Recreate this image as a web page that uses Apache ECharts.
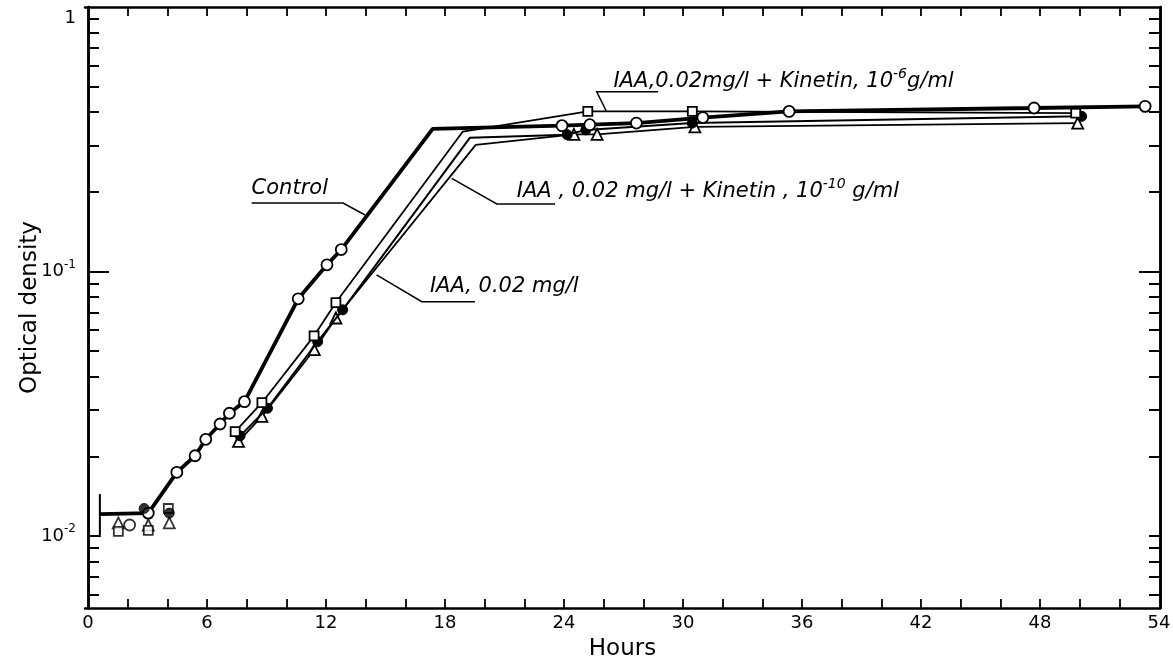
<!DOCTYPE html>
<html>
<head>
<meta charset="utf-8">
<script src="https://cdn.jsdelivr.net/npm/echarts@6/dist/echarts.min.js"></script>
<style>
html, body { margin: 0; padding: 0; background: #fff; }
#chart { width: 1173px; height: 670px; }
</style>
</head>
<body>
<div id="chart"></div>
<script>
// growth curves, hours vs optical density
var ctrlHours = [0.6, 3.04, 4.48, 5.4, 5.94, 6.66, 7.13, 7.89, 10.6, 12.05, 12.77, 17.38, 23.9, 25.3, 27.65, 31.0, 35.35, 47.7, 53.3];
var ctrlOD    = [0.0121, 0.0122, 0.0174, 0.0201, 0.0232, 0.0265, 0.0291, 0.0322, 0.0788, 0.106, 0.121, 0.346, 0.356, 0.359, 0.364, 0.382, 0.403, 0.415, 0.421];
var ctrlBends = [0.6, 17.38];           // line vertices only, no measured point
var ctrlEarlyHours = [2.1];
var ctrlEarlyOD    = [0.0110];
var ctrlBarHours = [0.6, 0.6];
var ctrlBarOD    = [0.0099, 0.0144];

// IAA 0.02 mg/l + kinetin 1e-6 g/ml (squares)
var sqHours = [7.42, 8.77, 11.4, 12.5, 18.9, 25.2, 30.47, 49.8];
var sqOD    = [0.0248, 0.0319, 0.0571, 0.0763, 0.338, 0.403, 0.403, 0.397];
var sqBends = [18.9];
var sqEarlyHours = [1.53, 3.04, 4.05];
var sqEarlyOD    = [0.0104, 0.0105, 0.0127];

// IAA 0.02 mg/l + kinetin 1e-10 g/ml (filled circles)
var fcHours = [7.67, 9.05, 11.58, 12.84, 19.25, 24.16, 25.1, 30.47, 50.1];
var fcOD    = [0.0239, 0.0304, 0.0543, 0.0716, 0.32, 0.329, 0.343, 0.364, 0.386];
var fcBends = [19.25];
var fcEarlyHours = [2.83, 4.1];
var fcEarlyOD    = [0.0127, 0.0122];

// IAA 0.02 mg/l (triangles)
var trHours = [7.59, 8.77, 11.41, 12.5, 19.55, 24.5, 25.67, 30.6, 49.9];
var trOD    = [0.0228, 0.0283, 0.0506, 0.0667, 0.301, 0.33, 0.33, 0.352, 0.364];
var trBends = [19.55];
var trEarlyHours = [1.53, 3.04, 4.1];
var trEarlyOD    = [0.0112, 0.0110, 0.0112];

// axes
var xTickHours  = [2, 4, 6, 8, 10, 12, 14, 16, 18, 20, 22, 24, 26, 28, 30, 32, 34, 36, 38, 40, 42, 44, 46, 48, 50, 52];
var xLabelHours = [0, 6, 12, 18, 24, 30, 36, 42, 48, 54];
var yMinorTicks = [0.006, 0.007, 0.008, 0.009, 0.01, 0.02, 0.03, 0.04, 0.05, 0.06, 0.07, 0.08, 0.09,
                   0.2, 0.3, 0.4, 0.5, 0.6, 0.7, 0.8, 0.9];
var yMajorTicks = [0.1];
var yLabelValues = [0.01, 0.1, 1];
var yMin = 0.00534, yMax = 1;

function lg(v) { return Math.log10(v); }
function pts(h, v) { return h.map(function (x, i) { return [x, lg(v[i])]; }); }

var font = '"DejaVu Sans", sans-serif';
var openStyle = { color: '#fff', borderColor: '#000', borderWidth: 1.8 };
var fillStyle = { color: '#000', borderColor: '#000', borderWidth: 1 };

function curve(name, h, v, bends, sym, size, style, width, z) {
    return {
        name: name,
        type: 'line',
        data: pts(h, v),
        symbol: function (val) { return bends.indexOf(val[0]) >= 0 ? 'none' : sym; },
        symbolSize: size,
        itemStyle: style,
        lineStyle: { color: '#000', width: width },
        z: z,
        silent: true
    };
}
function dots(name, h, v, sym, size, style, z) {
    return {
        name: name,
        type: 'scatter',
        data: pts(h, v),
        symbol: sym,
        symbolSize: size,
        itemStyle: style,
        z: z,
        silent: true
    };
}

function yAxisDef(pos, ticks, len, withLabels) {
    return {
        type: 'value',
        position: pos,
        min: lg(yMin),
        max: lg(yMax),
        splitLine: { show: false },
        axisLine: { show: true, lineStyle: { color: '#000', width: 2.5 } },
        axisTick: {
            show: true, inside: true, length: len,
            customValues: ticks.map(lg),
            lineStyle: { color: '#000', width: 2 }
        },
        axisLabel: withLabels ? {
            show: true,
            customValues: yLabelValues.map(lg),
            margin: 9,
            color: '#000',
            fontFamily: font,
            fontSize: 18,
            lineHeight: 26,
            formatter: function (v) {
                var e = Math.round(v);
                return e === 0 ? '{one|1}' : '10{s|' + e + '}';
            },
            rich: {
                s: { fontSize: 12, lineHeight: 13, verticalAlign: 'top', fontFamily: font, color: '#000' },
                one: { fontSize: 18, fontFamily: font, color: '#000', padding: [22, 0, 0, 0] }
            }
        } : { show: false },
        name: withLabels ? 'Optical density' : '',
        nameLocation: 'middle',
        nameGap: 43,
        nameMoveOverlap: false,
        nameTextStyle: { color: '#000', fontFamily: font, fontSize: 23 }
    };
}

function xAxisDef(pos, withLabels) {
    return {
        type: 'value',
        position: pos,
        min: -0.15,
        max: 54.05,
        splitLine: { show: false },
        axisLine: { show: true, onZero: false, lineStyle: { color: '#000', width: 2.5 } },
        axisTick: { show: true, inside: true, length: 9, customValues: xTickHours, lineStyle: { color: '#000', width: 1.8 } },
        axisLabel: withLabels ? {
            show: true, customValues: xLabelHours, margin: 6,
            color: '#000', fontFamily: font, fontSize: 18
        } : { show: false },
        name: withLabels ? 'Hours' : '',
        nameLocation: 'middle',
        nameGap: 30,
        nameTextStyle: { color: '#000', fontFamily: font, fontSize: 23 }
    };
}

var chart = echarts.init(document.getElementById('chart'));
chart.setOption({
    animation: false,
    backgroundColor: '#fff',
    grid: { left: 85, right: 13, top: 7, bottom: 62, containLabel: false, outerBoundsMode: 'none' },
    xAxis: [xAxisDef('bottom', true), xAxisDef('top', false)],
    yAxis: [
        yAxisDef('left', yMinorTicks, 11, true),
        yAxisDef('left', yMajorTicks, 21, false),
        yAxisDef('right', yMinorTicks, 11, false),
        yAxisDef('right', yMajorTicks, 21, false)
    ],
    series: [
        { name: 'bar', type: 'line', data: pts(ctrlBarHours, ctrlBarOD), symbol: 'none',
          lineStyle: { color: '#000', width: 2 }, z: 2, silent: true },
        curve('IAA, 0.02 mg/l', trHours, trOD, trBends, 'triangle', 11, openStyle, 1.8, 3),
        curve('IAA + Kinetin 1e-10', fcHours, fcOD, fcBends, 'circle', 10, fillStyle, 2, 4),
        curve('IAA + Kinetin 1e-6', sqHours, sqOD, sqBends, 'rect', 9, openStyle, 1.8, 5),
        curve('Control', ctrlHours, ctrlOD, ctrlBends, 'circle', 11, openStyle, 3.8, 6),
        dots('tr early', trEarlyHours, trEarlyOD, 'triangle', 11, openStyle, 7),
        dots('sq early', sqEarlyHours, sqEarlyOD, 'rect', 9, openStyle, 7),
        dots('fc early', fcEarlyHours, fcEarlyOD, 'circle', 10, fillStyle, 8),
        dots('ctrl early', ctrlEarlyHours, ctrlEarlyOD, 'circle', 11, openStyle, 7)
    ]
});

// curve labels with underline and leader, anchored in data space
var notes = [
    { text: 'Control', at: [8.25, 0.2063],
      path: [[8.25, 0.1815], [12.86, 0.1815], [13.97, 0.1635]] },
    { text: 'IAA, 0.02 mg/l', at: [17.24, 0.0876],
      path: [[19.51, 0.0769], [16.83, 0.0769], [14.55, 0.097]] },
    { text: 'IAA , 0.02 mg/l + Kinetin , 10{s|-10} g/ml', at: [21.62, 0.2002],
      path: [[23.55, 0.1799], [20.61, 0.1799], [18.34, 0.225]] },
    { text: 'IAA,0.02mg/l + Kinetin, 10{s|-6}g/ml', at: [26.49, 0.522],
      path: [[28.75, 0.478], [25.65, 0.478], [26.15, 0.4018]] }
];
function toPx(p) { return chart.convertToPixel({ xAxisIndex: 0, yAxisIndex: 0 }, [p[0], lg(p[1])]); }

var gfx = [];
notes.forEach(function (n) {
    var a = toPx(n.at);
    gfx.push({
        type: 'text', silent: true, z: 20,
        style: {
            x: a[0], y: a[1], text: n.text, fill: '#000',
            fontFamily: font, fontSize: 21, fontStyle: 'italic',
            lineHeight: 28, verticalAlign: 'middle', align: 'left',
            rich: { s: { fontSize: 14, lineHeight: 14, verticalAlign: 'top', fontStyle: 'italic', fontFamily: font, fill: '#000' } }
        }
    });
    gfx.push({
        type: 'polyline', silent: true, z: 20,
        shape: { points: n.path.map(toPx) },
        style: { stroke: '#000', lineWidth: 1.5, fill: null }
    });
});
chart.setOption({ graphic: gfx });
</script>
</body>
</html>
